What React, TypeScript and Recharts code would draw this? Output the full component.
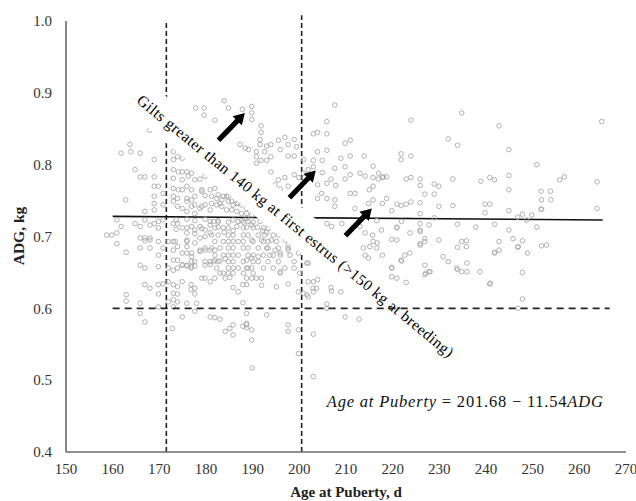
import { ScatterChart, Scatter, XAxis, YAxis, ReferenceLine } from "recharts"

type P = [number, number]

// Age at puberty (d), ADG (kg)
const upperPoints: P[] = [
  [168.0, 0.848], [177.8, 0.879], [179.6, 0.879], [179.6, 0.869], [181.9, 0.862], [183.9, 0.889],
  [187.8, 0.877], [184.8, 0.879], [189.8, 0.881], [189.8, 0.872], [189.8, 0.863],
  [161.8, 0.816], [163.9, 0.818], [165.9, 0.816], [168.9, 0.807], [163.7, 0.828], [173.0, 0.818],
  [173.0, 0.807], [173.9, 0.811], [174.9, 0.809],
  [191.8, 0.854], [191.8, 0.845], [207.6, 0.883], [205.9, 0.86], [203.0, 0.843], [203.9, 0.845],
  [205.9, 0.843], [209.8, 0.83], [210.9, 0.834], [203.9, 0.818], [205.9, 0.82], [203.0, 0.806],
  [204.9, 0.806], [208.9, 0.809], [210.9, 0.812], [213.9, 0.812], [197.6, 0.812], [198.9, 0.812],
  [200.9, 0.807], [195.5, 0.834], [196.9, 0.838], [198.9, 0.835], [197.6, 0.828], [195.9, 0.821],
  [193.0, 0.826], [193.9, 0.828], [192.6, 0.818], [193.9, 0.811], [193.0, 0.806], [191.8, 0.806],
  [190.8, 0.818], [190.8, 0.811], [190.8, 0.802], [187.3, 0.828], [188.4, 0.823], [189.1, 0.821],
  [191.6, 0.835], [191.6, 0.828], [199.4, 0.825],
  [234.8, 0.872], [223.9, 0.862], [242.8, 0.854], [264.8, 0.86], [231.9, 0.836], [233.9, 0.827],
  [244.9, 0.821], [221.8, 0.815], [221.8, 0.807], [223.9, 0.812], [250.9, 0.8],
]

const midPoints: P[] = [
  [164.8, 0.793], [165.9, 0.783], [166.9, 0.783], [168.9, 0.783], [168.9, 0.77], [169.8, 0.77],
  [168.9, 0.756], [170.8, 0.76], [170.8, 0.744], [162.8, 0.751],
  [173.0, 0.793], [174.1, 0.79], [174.9, 0.79], [175.9, 0.79], [173.0, 0.781], [174.9, 0.779],
  [176.2, 0.784], [176.9, 0.788], [177.6, 0.779], [178.7, 0.78], [179.8, 0.784], [173.0, 0.767],
  [174.1, 0.765], [174.9, 0.765], [175.9, 0.77], [176.9, 0.765], [179.1, 0.765], [173.0, 0.756],
  [173.9, 0.753], [175.9, 0.753], [177.6, 0.756], [179.1, 0.763], [179.8, 0.757], [180.9, 0.765],
  [181.9, 0.767], [182.6, 0.758], [183.7, 0.756], [184.8, 0.756],
  [201.9, 0.793], [203.0, 0.797], [204.9, 0.789], [207.6, 0.795], [209.8, 0.797], [210.9, 0.786],
  [213.0, 0.788], [214.1, 0.784], [215.8, 0.798], [215.8, 0.782], [216.9, 0.78], [217.8, 0.782],
  [217.0, 0.788], [218.0, 0.783], [193.9, 0.79], [195.5, 0.779], [196.9, 0.782], [198.9, 0.786],
  [199.9, 0.782], [200.9, 0.788], [194.8, 0.772], [195.9, 0.766], [197.6, 0.77], [203.9, 0.772],
  [205.9, 0.774], [206.8, 0.78], [207.8, 0.771], [209.8, 0.78], [204.8, 0.76], [203.9, 0.753],
  [205.9, 0.753], [207.6, 0.751], [210.9, 0.76], [211.9, 0.76], [215.8, 0.77], [215.0, 0.765],
  [215.8, 0.751], [214.8, 0.746], [217.8, 0.746], [211.9, 0.739], [207.6, 0.742],
  [218.7, 0.783], [222.9, 0.78], [223.9, 0.782], [225.9, 0.78], [225.9, 0.771], [228.9, 0.773],
  [229.9, 0.77], [232.9, 0.78], [238.9, 0.777], [240.8, 0.782], [241.8, 0.779], [244.9, 0.785],
  [255.8, 0.779], [256.8, 0.783], [263.8, 0.776], [244.9, 0.765], [226.9, 0.759], [228.9, 0.759],
  [218.7, 0.753], [251.9, 0.751], [253.9, 0.751], [251.8, 0.763], [253.8, 0.763],
  [220.9, 0.745], [221.8, 0.743], [222.9, 0.745], [223.9, 0.748], [225.9, 0.747], [229.9, 0.742],
  [232.9, 0.743], [239.8, 0.745], [240.8, 0.745], [251.8, 0.738], [244.9, 0.736], [263.8, 0.739],
  [219.8, 0.736], [225.9, 0.732], [239.8, 0.733], [247.8, 0.731], [228.9, 0.726], [246.8, 0.727],
  [251.9, 0.738], [249.8, 0.73], [248.7, 0.723],
]

const corePoints: P[] = [
  [181.2, 0.756], [182.3, 0.753], [183.4, 0.751], [184.4, 0.756], [185.5, 0.749], [186.6, 0.746],
  [187.6, 0.744], [188.7, 0.739], [182.3, 0.744], [183.4, 0.742], [184.4, 0.737], [185.5, 0.737],
  [186.6, 0.735], [187.6, 0.732], [188.7, 0.732], [189.8, 0.73], [181.2, 0.746], [183.0, 0.746],
  [184.8, 0.749], [185.8, 0.744], [186.9, 0.746], [187.6, 0.751],
  [173.9, 0.742], [174.9, 0.739], [176.9, 0.742], [179.1, 0.742],
  [168.9, 0.746], [168.9, 0.737], [166.9, 0.735], [173.0, 0.749], [175.9, 0.749], [176.9, 0.751],
  [177.6, 0.744], [178.7, 0.739], [179.8, 0.744], [180.9, 0.737], [175.9, 0.735], [177.6, 0.732],
  [173.6, 0.723], [175.9, 0.724], [177.6, 0.722], [179.8, 0.724], [180.9, 0.721], [182.6, 0.722],
  [184.8, 0.72], [185.8, 0.723], [187.6, 0.722],
  [160.9, 0.723], [161.8, 0.714], [164.8, 0.718], [159.8, 0.702], [158.7, 0.702], [166.9, 0.723],
  [168.0, 0.716], [168.9, 0.718], [160.9, 0.705], [165.9, 0.714], [169.8, 0.721], [169.8, 0.712],
  [170.8, 0.723], [173.0, 0.718], [173.9, 0.718], [174.9, 0.712], [175.9, 0.712], [176.9, 0.714],
  [175.9, 0.705], [177.6, 0.709], [178.7, 0.714], [179.8, 0.709], [180.9, 0.716], [180.9, 0.705],
  [179.8, 0.7], [178.7, 0.698], [173.6, 0.71], [177.6, 0.704], [179.1, 0.711], [182.6, 0.713],
  [183.9, 0.706], [185.8, 0.708], [186.6, 0.714],
  [181.6, 0.721], [182.6, 0.72], [186.9, 0.721], [188.0, 0.72], [189.0, 0.721], [190.1, 0.72], [191.6, 0.721],
  [181.9, 0.712], [183.7, 0.712], [184.8, 0.712], [188.0, 0.712], [190.1, 0.712], [192.3, 0.712], [193.3, 0.711],
  [181.2, 0.702], [182.6, 0.702], [184.8, 0.702], [185.8, 0.702], [188.0, 0.702], [189.0, 0.702],
  [191.2, 0.702], [192.6, 0.702], [194.4, 0.702], [195.5, 0.702],
  [181.9, 0.693], [183.7, 0.693], [184.8, 0.693], [185.8, 0.693], [186.9, 0.693], [188.0, 0.693],
  [190.1, 0.693], [192.3, 0.693], [193.3, 0.693], [195.1, 0.693],
  [181.2, 0.684], [183.0, 0.684], [184.8, 0.684], [185.8, 0.684], [188.0, 0.684], [189.0, 0.684],
  [191.2, 0.684], [193.3, 0.684], [195.5, 0.684], [197.6, 0.684],
  [181.9, 0.674], [183.7, 0.674], [184.8, 0.674], [185.8, 0.674], [186.9, 0.674], [189.0, 0.674],
  [190.1, 0.674], [192.3, 0.674], [194.4, 0.674], [195.9, 0.674], [198.0, 0.674],
  [181.6, 0.665], [182.6, 0.665], [184.8, 0.665], [185.8, 0.665], [188.0, 0.665], [190.1, 0.665],
  [191.2, 0.665], [193.3, 0.665], [195.5, 0.665],
  [182.3, 0.656], [184.8, 0.656], [185.8, 0.656], [186.9, 0.656], [189.0, 0.656], [192.3, 0.656], [194.4, 0.656],
  [183.7, 0.649], [184.8, 0.649], [185.8, 0.649], [188.0, 0.649], [190.1, 0.649], [195.9, 0.649], [200.1, 0.649],
  [188.7, 0.725], [189.8, 0.716], [191.0, 0.713], [192.1, 0.708], [193.0, 0.706], [188.7, 0.713],
]

const leftPoints: P[] = [
  [165.9, 0.698], [166.9, 0.698], [168.0, 0.698], [165.9, 0.684], [168.0, 0.684], [169.8, 0.693],
  [169.8, 0.674], [170.8, 0.684], [173.0, 0.693], [173.9, 0.686], [174.9, 0.677], [175.9, 0.693],
  [175.9, 0.686], [176.9, 0.672], [177.6, 0.665], [178.7, 0.679], [179.8, 0.684], [180.9, 0.681],
  [179.8, 0.665], [180.9, 0.665], [165.9, 0.66], [166.9, 0.656], [169.8, 0.658], [173.0, 0.653],
  [173.9, 0.656], [174.9, 0.66], [175.9, 0.66], [176.9, 0.658], [176.9, 0.665],
  [160.9, 0.69], [162.9, 0.678], [166.9, 0.694], [168.0, 0.695], [171.9, 0.693], [173.4, 0.693],
  [175.9, 0.695], [177.6, 0.691], [178.7, 0.681], [179.8, 0.681], [181.9, 0.681], [173.0, 0.681],
  [175.9, 0.677], [176.9, 0.677], [173.0, 0.667], [173.9, 0.667], [174.9, 0.661], [175.9, 0.659],
  [176.8, 0.656], [177.6, 0.659], [171.9, 0.656], [179.8, 0.66], [180.9, 0.661], [181.9, 0.667],
  [183.0, 0.666], [184.1, 0.669],
  [179.8, 0.642], [180.9, 0.637], [181.9, 0.642], [183.0, 0.649], [184.1, 0.642], [185.1, 0.643],
  [185.8, 0.629], [186.9, 0.623], [187.9, 0.633], [162.9, 0.619], [162.9, 0.61], [165.9, 0.607],
  [165.9, 0.593], [166.9, 0.581], [166.9, 0.633], [168.0, 0.628], [169.8, 0.633], [169.8, 0.62],
  [170.8, 0.634], [171.9, 0.637], [173.0, 0.633], [173.9, 0.63], [174.9, 0.637], [173.0, 0.621],
  [173.9, 0.62], [171.9, 0.609], [173.0, 0.612], [173.9, 0.609], [169.8, 0.602], [173.0, 0.602],
  [174.9, 0.588], [172.8, 0.572], [175.9, 0.607], [178.0, 0.607], [177.6, 0.596], [180.9, 0.588],
  [181.9, 0.587], [183.0, 0.585], [184.1, 0.568], [185.1, 0.572], [185.8, 0.577], [185.8, 0.563],
  [187.9, 0.575], [187.9, 0.608], [188.7, 0.577], [188.7, 0.573], [189.8, 0.57], [189.8, 0.556],
  [189.9, 0.517], [176.8, 0.633], [177.6, 0.628], [176.8, 0.626], [177.6, 0.62], [179.1, 0.642],
]

const rightPoints: P[] = [
  [189.8, 0.695], [191.9, 0.695], [194.0, 0.695], [197.0, 0.695], [197.6, 0.688], [197.6, 0.681],
  [199.8, 0.677], [195.9, 0.677], [201.9, 0.663], [198.9, 0.665], [198.9, 0.656], [196.9, 0.656],
  [195.9, 0.651], [197.6, 0.634], [199.8, 0.623], [200.9, 0.621], [201.9, 0.637], [203.0, 0.637],
  [203.9, 0.64], [201.9, 0.616], [203.0, 0.623], [206.8, 0.629], [208.9, 0.623], [205.9, 0.606],
  [209.8, 0.588], [212.8, 0.585], [193.0, 0.591], [188.7, 0.593], [188.7, 0.579], [197.6, 0.577],
  [197.6, 0.568], [199.8, 0.57], [203.0, 0.564], [199.8, 0.537], [203.0, 0.505],
  [188.7, 0.667], [189.8, 0.67], [191.2, 0.672], [188.7, 0.656], [189.8, 0.656], [188.7, 0.642],
  [189.8, 0.642], [190.8, 0.642], [191.9, 0.642], [188.7, 0.633], [191.9, 0.632], [193.0, 0.684],
  [193.7, 0.674], [194.8, 0.681], [195.1, 0.63], [201.6, 0.663], [202.9, 0.628], [203.7, 0.628],
  [201.6, 0.619], [205.9, 0.6], [206.9, 0.624],
  [205.9, 0.718], [206.9, 0.714], [209.1, 0.718], [213.0, 0.714], [214.1, 0.705], [213.7, 0.684],
  [215.8, 0.693], [216.6, 0.722], [217.6, 0.709], [220.9, 0.712], [223.7, 0.705], [225.9, 0.709],
  [215.7, 0.702], [216.7, 0.691],
  [221.9, 0.721], [225.9, 0.718], [227.8, 0.716], [233.9, 0.717], [237.8, 0.713], [241.8, 0.717],
  [244.9, 0.709], [250.9, 0.713], [220.9, 0.713], [225.9, 0.707],
  [215.1, 0.686], [214.1, 0.674], [216.6, 0.684], [217.8, 0.674], [214.8, 0.67], [219.8, 0.656],
  [220.9, 0.642], [222.9, 0.636], [219.8, 0.644], [221.8, 0.667], [222.6, 0.674], [223.7, 0.677],
  [225.9, 0.688], [226.9, 0.693], [227.1, 0.649], [228.0, 0.651], [230.8, 0.672], [231.9, 0.665],
  [233.7, 0.656], [234.8, 0.651], [235.9, 0.663], [235.9, 0.651], [238.7, 0.651], [240.9, 0.635],
  [241.8, 0.677], [242.8, 0.681], [242.8, 0.693], [246.9, 0.686], [247.8, 0.65], [247.8, 0.613],
  [246.9, 0.6], [248.9, 0.677], [251.9, 0.687], [253.0, 0.688],
  [220.9, 0.695], [225.9, 0.69], [229.9, 0.695], [233.9, 0.685], [234.8, 0.693], [235.8, 0.694],
  [235.8, 0.686], [245.8, 0.697], [247.8, 0.694], [246.8, 0.685], [241.9, 0.678], [221.9, 0.666],
  [219.8, 0.657], [226.9, 0.66], [227.8, 0.651], [226.9, 0.647], [233.9, 0.654], [240.8, 0.634],
  [219.8, 0.696], [226.9, 0.697],
]

const regression = [
  { x: 160, y: 0.728 },
  { x: 265, y: 0.723 },
]
const cutAges = [171.5, 200.5]
const cutAdg = [
  { x: 160, y: 0.6 },
  { x: 266.5, y: 0.6 },
]
const arrows = [
  { x: 185.5, y: 0.853 },
  { x: 200.7, y: 0.773 },
  { x: 212.7, y: 0.72 },
]
const note = [{ x: 199.2, y: 0.715 }]
const equation = [{ x: 205.9, y: 0.462 }]

const xTicks = [150, 160, 170, 180, 190, 200, 210, 220, 230, 240, 250, 260, 270]
const yTicks = [0.4, 0.5, 0.6, 0.7, 0.8, 0.9, 1.0]

const allPoints = [...upperPoints, ...midPoints, ...corePoints, ...leftPoints, ...rightPoints].map(
  ([x, y]) => ({ x, y })
)

const serif = "Liberation Serif"

const Dot = (props: any) => (
  <circle cx={props.cx} cy={props.cy} r={2.3} fill="none" stroke="#a8a8a8" strokeWidth={0.9} />
)

const NoDot = () => <g />

const Arrow = (props: any) => {
  const { cx, cy } = props
  return (
    <g transform={`translate(${cx},${cy}) rotate(-46)`}>
      <polygon points="-19,-2.6 8,-2.6 8,-6.5 19,0 8,6.5 8,2.6 -19,2.6" fill="#000" />
    </g>
  )
}

const Note = (props: any) => {
  const { cx, cy } = props
  return (
    <g transform={`rotate(39.3 ${cx} ${cy})`}>
      <rect x={cx - 218} y={cy - 18} width={436} height={36} fill="#fff" />
      <text
        x={cx}
        y={cy}
        textAnchor="middle"
        dominantBaseline="central"
        style={{ fontFamily: serif }}
        fontSize={15.5}
        fill="#000"
        textLength={404}
        lengthAdjust="spacing"
      >
        Gilts greater than 140 kg at first estrus (&gt;150 kg at breeding)
      </text>
    </g>
  )
}

const Equation = (props: any) => {
  const { cx, cy } = props
  return (
    <text
      x={cx}
      y={cy}
      style={{ fontFamily: serif }}
      fontSize={16.5}
      fill="#111"
      textLength={276}
      lengthAdjust="spacing"
    >
      <tspan fontStyle="italic">Age at Puberty</tspan>
      <tspan> = 201.68 − 11.54</tspan>
      <tspan fontStyle="italic">ADG</tspan>
    </text>
  )
}

const tickStyle = { fontSize: 15, fill: "#333", style: { fontFamily: serif } }

export default function App() {
  return (
    <div style={{ position: "absolute", left: 0, top: 0, background: "#fff", fontFamily: serif }}>
      <ScatterChart width={636} height={501} margin={{ top: 21, right: 10, bottom: 19, left: 0 }}>
        <XAxis
          type="number"
          dataKey="x"
          domain={[150, 270]}
          ticks={xTicks}
          interval={0}
          tickLine={false}
          tickSize={0}
          tickMargin={11}
          height={30}
          axisLine={{ stroke: "#6b6b6b", strokeWidth: 1.6 }}
          tick={tickStyle}
          label={{
            content: () => (
              <text
                x={346}
                y={497}
                textAnchor="middle"
                style={{ fontFamily: serif }}
                fontSize={15}
                fontWeight="bold"
                fill="#222"
              >
                Age at Puberty, d
              </text>
            ),
          }}
        />
        <YAxis
          type="number"
          dataKey="y"
          domain={[0.4, 1.0]}
          ticks={yTicks}
          interval={0}
          tickLine={false}
          tickSize={0}
          tickMargin={14}
          width={66}
          axisLine={{ stroke: "#6b6b6b", strokeWidth: 1.6 }}
          tick={tickStyle}
          tickFormatter={(v: number) => v.toFixed(1)}
          label={{
            content: () => (
              <text
                x={24}
                y={236}
                transform="rotate(-90 24 236)"
                textAnchor="middle"
                style={{ fontFamily: serif }}
                fontSize={15.5}
                fontWeight="bold"
                fill="#222"
              >
                ADG, kg
              </text>
            ),
          }}
        />
        <Scatter data={allPoints} shape={Dot} isAnimationActive={false} />
        <ReferenceLine
          segment={[{ x: cutAges[0], y: 0.4 }, { x: cutAges[0], y: 1.0 }]}
          stroke="#222"
          strokeWidth={1.6}
          strokeDasharray="5 3"
        />
        <ReferenceLine
          segment={[{ x: cutAges[1], y: 0.4 }, { x: cutAges[1], y: 1.008 }]}
          stroke="#222"
          strokeWidth={1.6}
          strokeDasharray="5 3"
          ifOverflow="visible"
        />
        <ReferenceLine segment={[regression[0], regression[1]]} stroke="#111" strokeWidth={1.6} />
        <Scatter data={note} shape={Note} isAnimationActive={false} />
        <Scatter
          data={cutAdg}
          shape={NoDot}
          line={{ stroke: "#222", strokeWidth: 1.6, strokeDasharray: "7 5" }}
          isAnimationActive={false}
        />
        <Scatter data={arrows} shape={Arrow} isAnimationActive={false} />
        <Scatter data={equation} shape={Equation} isAnimationActive={false} />
      </ScatterChart>
    </div>
  )
}
